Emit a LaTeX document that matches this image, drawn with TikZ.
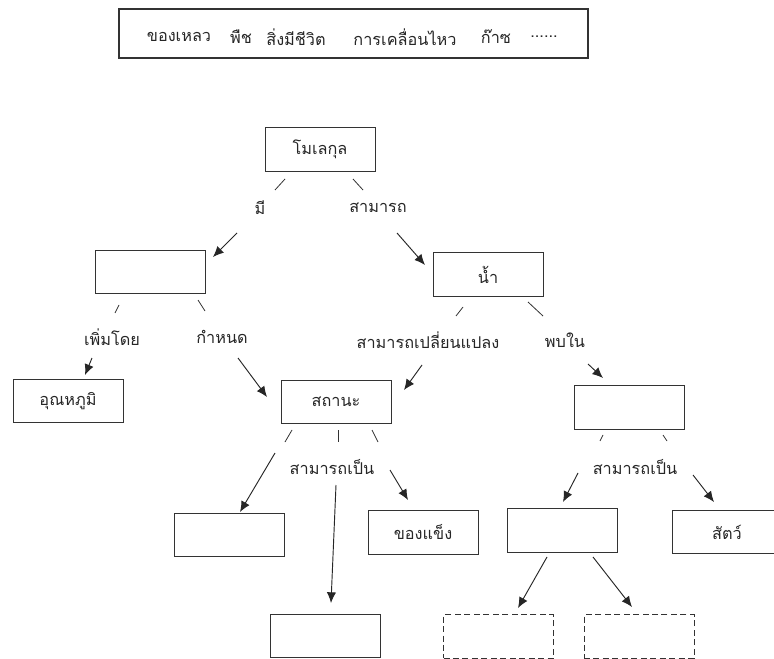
\documentclass[tikz,border=0pt]{standalone}
\usepackage{fontspec}
\newfontfamily\thaifont[Script=Thai]{Loma}
\usetikzlibrary{arrows.meta}
\begin{document}
\begin{tikzpicture}[x=0.75pt,y=-0.75pt,
  every node/.style={font=\thaifont\fontsize{12.2pt}{14pt}\selectfont, text=black!85},
  cbox/.style={draw=black!80, line width=0.7pt, minimum width=82.5pt, minimum height=32.5pt, inner sep=0pt},
  dbox/.style={cbox, dash pattern=on 4.5pt off 2.6pt},
  lbl/.style={inner sep=1pt},
  tick/.style={draw=black!80, line width=0.6pt},
  arr/.style={draw=black!85, line width=0.7pt, -{Latex[length=8pt,width=7pt]}}]
\clip (0,0) rectangle (774,659);
\fill[white] (0,0) rectangle (774,659);

% word bank
\node[draw=black!80, line width=0.8pt, minimum width=351.75pt, minimum height=36.75pt, inner sep=0pt] (bank) at (353.5,33.5) {};
\node (w1) at (179,37) {ของเหลว};
\node (w2) at (241,37) {พืช};
\node (w3) at (296,37) {สิ่งมีชีวิต};
\node (w4) at (405,37) {การเคลื่อนไหว};
\node (w5) at (496,37) {ก๊าซ};
\node (w6) at (544,37) {......};

% boxes
\node[cbox] (mol)   at (320,149.5) {โมเลกุล};
\node[cbox] (has)   at (150,272) {};
\node[cbox] (water) at (488,274.5) {น้ำ};
\node[cbox] (temp)  at (68,401) {อุณหภูมิ};
\node[cbox] (state) at (336,402) {สถานะ};
\node[cbox] (found) at (629.5,407.5) {};
\node[cbox] (st1)   at (229.5,535) {};
\node[cbox] (solid) at (423,532.5) {ของแข็ง};
\node[cbox] (life)  at (562,530.5) {};
\node[cbox] (anim)  at (727,532) {สัตว์};
\node[cbox] (st3)   at (325.5,636) {};
\node[dbox] (sub1)  at (498.5,636.5) {};
\node[dbox] (sub2)  at (639,636.5) {};

% linking words
\node[lbl] (l1) at (260,208) {มี};
\node[lbl] (l2) at (378,208) {สามารถ};
\node[lbl] (l3) at (112,337) {เพิ่มโดย};
\node[lbl] (l4) at (222,337) {กำหนด};
\node[lbl] (l5) at (428,340) {สามารถเปลี่ยนแปลง};
\node[lbl] (l6) at (565,340) {พบใน};
\node[lbl] (l7) at (332,467) {สามารถเป็น};
\node[lbl] (l8) at (635,467) {สามารถเป็น};

% short strokes below the boxes
\coordinate (t1a) at (285,179); \coordinate (t1b) at (275,190);
\coordinate (t2a) at (353,179); \coordinate (t2b) at (363,190);
\coordinate (t3a) at (119,305); \coordinate (t3b) at (115,313);
\coordinate (t4a) at (198,300); \coordinate (t4b) at (205,311);
\coordinate (t5a) at (463,307); \coordinate (t5b) at (456,316);
\coordinate (t6a) at (528,302); \coordinate (t6b) at (543,316);
\coordinate (t7a) at (292,430); \coordinate (t7b) at (285,442);
\coordinate (t8a) at (338,430); \coordinate (t8b) at (338,442);
\coordinate (t9a) at (372,430); \coordinate (t9b) at (378,442);
\coordinate (t10a) at (603,435); \coordinate (t10b) at (600,441);
\coordinate (t11a) at (663,435); \coordinate (t11b) at (667,441);
\foreach \i in {1,...,11} \draw[tick] (t\i a) -- (t\i b);

% arrows from the linking words
\coordinate (a1) at (237,233);
\coordinate (a2) at (397,233);
\coordinate (a3) at (92,358);
\coordinate (a4) at (238,358);
\coordinate (a5) at (422,365);
\coordinate (a6) at (588,364);
\coordinate (a7) at (275,453);
\coordinate (a8) at (336,485);
\coordinate (a9) at (390,470);
\coordinate (a10) at (578,473);
\coordinate (a11) at (693,475);
\coordinate (a12) at (547,557);
\coordinate (a13) at (593,557);
\coordinate (b1) at (213,257);
\coordinate (b2) at (425,265);
\coordinate (b3) at (85,375);
\coordinate (b4) at (267,397);
\coordinate (b5) at (404,390);
\coordinate (b6) at (603,378);
\coordinate (b7) at (240,512);
\coordinate (b8) at (331,603);
\coordinate (b9) at (408,500);
\coordinate (b10) at (563,502);
\coordinate (b11) at (714,502);
\coordinate (b12) at (518,608);
\coordinate (b13) at (632,607);
\foreach \i in {1,...,13} \draw[arr] (a\i) -- (b\i);
\end{tikzpicture}
\end{document}
